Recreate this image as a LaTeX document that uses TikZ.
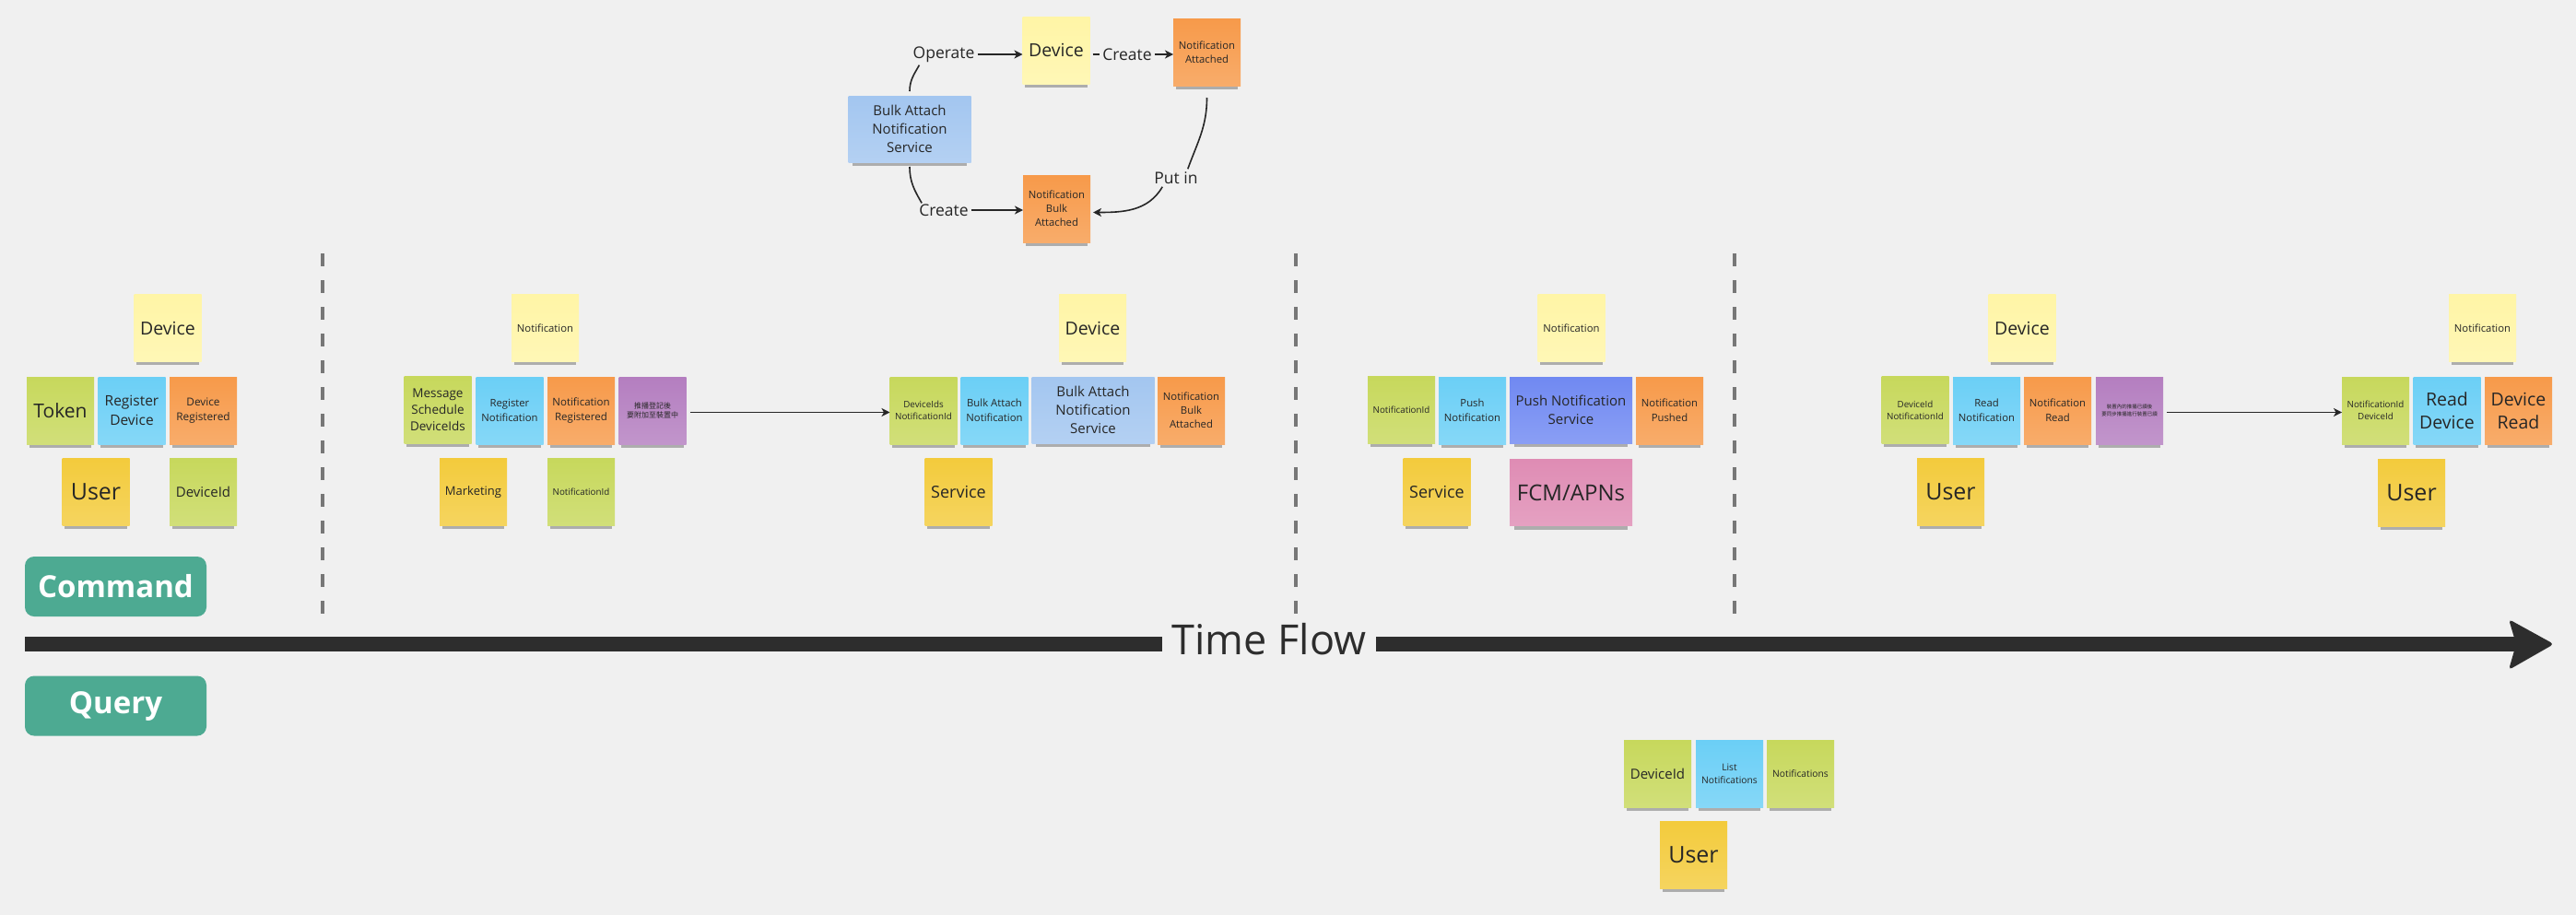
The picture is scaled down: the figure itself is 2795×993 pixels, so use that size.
\documentclass[tikz,border=0pt]{standalone}
\usepackage{fontspec}
\setmainfont{Open Sans}
\newfontfamily\cjk{Noto Sans CJK TC}
\usetikzlibrary{arrows.meta,shadows,calc}
\definecolor{bg}{HTML}{F0F0F0}
\definecolor{cly}{HTML}{FFF5A6}
\definecolor{cye}{HTML}{F3CB3C}
\definecolor{cgr}{HTML}{C7D85C}
\definecolor{cbl}{HTML}{6BCFF6}
\definecolor{cor}{HTML}{F79A4A}
\definecolor{cpu}{HTML}{B47EC0}
\definecolor{clb}{HTML}{A3C6F0}
\definecolor{cmb}{HTML}{7089F2}
\definecolor{cpk}{HTML}{DF8CB4}
\definecolor{cteal}{HTML}{4DAA92}
\definecolor{txt}{HTML}{262626}
\definecolor{sepc}{HTML}{777777}
\definecolor{barc}{HTML}{2D2D2D}
\tikzset{
  sticky/.style={minimum width=73pt, minimum height=73pt, inner sep=1pt, outer sep=0pt,
    align=center, text=txt, top color=#1, bottom color=#1!82!white, draw=none,
    drop shadow={shadow xshift=0pt, shadow yshift=-7pt, shadow scale=0.93, opacity=0.28, fill=black}},
  wide/.style={minimum width=133pt, minimum height=72pt},
  fs/.style 2 args={font=\fontsize{#1}{#2}\selectfont},
  cfs/.style 2 args={font=\cjk\fontsize{#1}{#2}\selectfont},
  lbl/.style={font=\fontsize{17.5}{20}\selectfont, text=txt, inner sep=3pt},
  conn/.style={draw=txt, line width=1.6pt},
  arr/.style={-{Stealth[length=9pt,width=9pt,inset=2.5pt]}},
  sepline/.style={draw=sepc, line width=3.5pt, dash pattern=on 14pt off 15pt},
  btn/.style={rounded corners=10pt, minimum width=197pt, minimum height=65pt, fill=cteal,
    text=white, font=\bfseries\fontsize{33}{38}\selectfont, inner sep=0pt},
  barline/.style={draw=barc, line width=16.5pt}
}
\begin{document}
\begin{tikzpicture}[x=1pt,y=-1pt]
\fill[bg] (0,0) rectangle (2795,993);
\useasboundingbox (0,0) rectangle (2795,993);

% separators
\foreach \sx in {350,1406,1882} \draw[sepline] (\sx,275) -- (\sx,667);

% time flow
\coordinate (tfs) at (27,699);
\coordinate (tfe) at (2735,699);
\coordinate (tip) at (2771,699);
\draw[barline] (tfs) -- (tfe);
\fill[barc, rounded corners=4pt] ($(tip)+(-49,-27)$) -- (tip) -- ($(tip)+(-49,28)$) -- ($(tip)+(-41,0)$) -- cycle;
\node[fill=bg, inner xsep=11pt, inner ysep=4pt, text=barc, fs={45}{50}] (tf) at (1377,694) {Time Flow};

% command / query
\node[btn] (cmd) at (125.5,636.5) {Command};
\node[btn] (qry) at (125.5,766) {Query};

% ---- top cycle
\node[sticky=cly, fs={19.5}{24}] (tdev) at (1146,54.5) {Device};
\node[sticky=cor, fs={11.3}{15}] (tna) at (1309.5,56.5) {Notification\\Attached};
\node[sticky=clb, wide, fs={15}{20}] (tsvc) at (987,140) {Bulk Attach\\Notification\\Service};
\node[sticky=cor, fs={11.3}{15}] (tnba) at (1146.5,226.5) {Notification\\Bulk\\Attached};
\node[lbl] (op) at (1024,59) {Operate};
\node[lbl] (cr1) at (1223,59) {Create};
\node[lbl] (pin) at (1276,193) {Put in};
\node[lbl] (cr2) at (1024,228) {Create};
\draw[conn] ($(tsvc.north)+(0,-5)$) to[out=90,in=240] ($(op.south west)+(10,0)$);
\draw[conn,arr] (op.east) -- (op.east -| tdev.west);
\draw[conn, shorten <=3pt] (tdev.east |- cr1.west) -- (cr1.west);
\draw[conn,arr] (cr1.east) -- (cr1.east -| tna.west);
\draw[conn] ($(tna.south)+(0,13)$) to[out=-90,in=70] ($(pin.north east)+(-14,0)$);
\draw[conn,arr] ($(pin.south west)+(12,0)$) to[out=-120,in=0] ($(tnba.east)+(3,4)$);
\draw[conn] ($(tsvc.south)+(0,5)$) to[out=-90,in=120] ($(cr2.north west)+(6,2)$);
\draw[conn,arr] (cr2.east) -- (cr2.east -| tnba.west);

% ---- section 1
\node[sticky=cly, fs={19.5}{24}] (a1) at (182,356) {Device};
\node[sticky=cgr, fs={21}{25}] (a2) at (65.5,445.5) {Token};
\node[sticky=cbl, fs={15.5}{21}] (a3) at (143,445.5) {Register\\Device};
\node[sticky=cor, fs={11.8}{16}] (a4) at (220.5,445.5) {Device\\Registered};
\node[sticky=cye, fs={25}{28}] (a5) at (104,534) {User};
\node[sticky=cgr, fs={15}{18}] (a6) at (220.5,534) {DeviceId};

% ---- section 2
\node[sticky=cly, fs={11.3}{14}] (b1) at (591.5,356) {Notification};
\node[sticky=cgr, fs={13.5}{18}] (b2) at (475,445) {Message\\Schedule\\DeviceIds};
\node[sticky=cbl, fs={11.3}{16}] (b3) at (553,445.5) {Register\\Notification};
\node[sticky=cor, fs={11.5}{16}] (b4) at (630.5,445.5) {Notification\\Registered};
\node[sticky=cpu, cfs={8}{10.7}] (b5) at (708,445.5) {推播登記後\\要附加至裝置中};
\node[sticky=cye, fs={13}{16}] (b6) at (513.5,534) {Marketing};
\node[sticky=cgr, fs={9.8}{12}] (b7) at (630.5,534) {NotificationId};

% ---- section 3
\node[sticky=cly, fs={19.5}{24}] (c1) at (1185.5,356) {Device};
\node[sticky=cgr, fs={9.8}{13}] (c2) at (1002,445.5) {DeviceIds\\NotificationId};
\node[sticky=cbl, fs={11.3}{16}] (c3) at (1079,445.5) {Bulk Attach\\Notification};
\node[sticky=clb, wide, fs={15}{20}] (c4) at (1186,445) {Bulk Attach\\Notification\\Service};
\node[sticky=cor, fs={11.3}{15}] (c5) at (1292.5,445.5) {Notification\\Bulk\\Attached};
\node[sticky=cye, fs={18}{21}] (c6) at (1040,534) {Service};

\draw[conn,arr,shorten <=4pt] ($(b5.east)+(0,2)$) -- ($(c2.west)+(0,2)$);

% ---- section 4
\node[sticky=cly, fs={11.3}{14}] (d1) at (1705,356) {Notification};
\node[sticky=cgr, fs={9.8}{12}] (d2) at (1520.5,445) {NotificationId};
\node[sticky=cbl, fs={11.3}{16}] (d3) at (1597.5,445.5) {Push\\Notification};
\node[sticky=cmb, wide, fs={15}{20}] (d4) at (1704.5,445) {Push Notification\\Service};
\node[sticky=cor, fs={11.3}{16}] (d5) at (1811.5,445.5) {Notification\\Pushed};
\node[sticky=cye, fs={18}{21}] (d6) at (1559,534) {Service};
\node[sticky=cpk, wide, fs={24}{28}] (d7) at (1704.5,534.5) {FCM/APNs};

% ---- section 5
\node[sticky=cly, fs={19.5}{24}] (e1) at (2194,356) {Device};
\node[sticky=cgr, fs={9.8}{13}] (e2) at (2078,445) {DeviceId\\NotificationId};
\node[sticky=cbl, fs={11.3}{16}] (e3) at (2155.5,445.5) {Read\\Notification};
\node[sticky=cor, fs={11.3}{16}] (e4) at (2232.5,445.5) {Notification\\Read};
\node[sticky=cpu, cfs={5.5}{7.5}] (e5) at (2310.5,445.5) {裝置內的推播已讀後\\要同步推播進行裝置已讀};
\node[sticky=cye, fs={25}{28}] (e6) at (2116.5,534) {User};

% ---- section 6
\node[sticky=cly, fs={11.3}{14}] (f1) at (2693.5,356) {Notification};
\node[sticky=cgr, fs={9.8}{13}] (f2) at (2577.5,445.5) {NotificationId\\DeviceId};
\node[sticky=cbl, fs={19.5}{25}] (f3) at (2655,445.5) {Read\\Device};
\node[sticky=cor, fs={19.5}{25}] (f4) at (2732.5,445.5) {Device\\Read};
\node[sticky=cye, fs={25}{28}] (f5) at (2616.5,534.5) {User};

\draw[conn,arr,shorten <=4pt] ($(e5.east)+(0,2)$) -- ($(f2.west)+(0,2)$);

% ---- query
\node[sticky=cgr, fs={15}{18}] (g1) at (1798.5,839.5) {DeviceId};
\node[sticky=cbl, fs={10.3}{14}] (g2) at (1876.5,839.5) {List\\Notifications};
\node[sticky=cgr, fs={10.3}{13}] (g3) at (1953.5,839.5) {Notifications};
\node[sticky=cye, fs={25}{28}] (g4) at (1837.5,928) {User};
\end{tikzpicture}
\end{document}
